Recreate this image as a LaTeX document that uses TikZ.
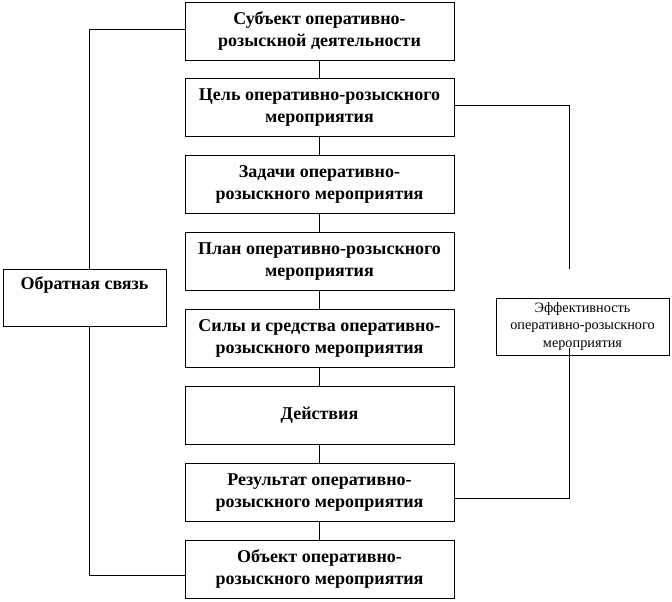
\documentclass[tikz,border=0pt]{standalone}
\usepackage{fontspec}
\setmainfont{Liberation Serif}
\usetikzlibrary{positioning, calc}

\begin{document}
\begin{tikzpicture}[
    x=0.75pt, y=-0.75pt,
    node distance=13.4pt
]

\definecolor{lineclr}{HTML}{000000}

\tikzset{
    stagebox/.style={
        rectangle,
        draw=lineclr,
        line width=0.75pt,
        minimum width=201.75pt,
        minimum height=43.5pt,
        inner sep=2pt,
        font=\fontsize{13.5}{16.5}\selectfont\bfseries,
        align=center
    },
    sidebox/.style={
        rectangle,
        draw=lineclr,
        line width=0.75pt,
        minimum height=42.75pt,
        inner sep=2pt,
        align=center
    },
    link/.style={
        draw=lineclr,
        line width=0.75pt
    }
}

\useasboundingbox (0,0) rectangle (672,601);

% Nodes
\node[stagebox] (subj) at (319.5,31) {Субъект оперативно-\\розыскной деятельности};
\node[stagebox, below=of subj] (goal) {Цель оперативно-розыскного\\мероприятия};
\node[stagebox, below=of goal] (task) {Задачи оперативно-\\розыскного мероприятия};
\node[stagebox, below=of task] (plan) {План оперативно-розыскного\\мероприятия};
\node[stagebox, below=of plan] (force) {Силы и средства оперативно-\\розыскного мероприятия};
\node[stagebox, below=of force] (act) {Действия};
\node[stagebox, below=of act] (res) {Результат оперативно-\\розыскного мероприятия};
\node[stagebox, below=of res] (obj) {Объект оперативно-\\розыскного мероприятия};

\node[sidebox, minimum width=122.25pt, text height=11pt, text depth=23.75pt, inner ysep=4pt,
      font=\fontsize{13.5}{16.5}\selectfont\bfseries] (fb) at (84.5,297.5) {Обратная связь};
\node[sidebox, minimum width=129.75pt, font=\fontsize{10.7}{13.3}\selectfont] (eff) at (582.5,326.5)
    {Эффективность\\оперативно-розыскного\\мероприятия};

\coordinate (effin) at ($(eff.north)+(-13.5,-29)$);
\coordinate (effout) at ($(eff.south)+(-13.5,-8)$);

% Edges of the main chain
\draw[link] (subj) -- (goal);
\draw[link] (goal) -- (task);
\draw[link] (task) -- (plan);
\draw[link] (plan) -- (force);
\draw[link] (force) -- (act);
\draw[link] (act) -- (res);
\draw[link] (res) -- (obj);

% Edges of the feedback loop
\draw[link] ([yshift=1.5pt]subj.west) -| ([xshift=4pt]fb.north);
\draw[link] ([xshift=4pt]fb.south) |- ([yshift=-5pt]obj.west);

% Edges to and from the efficiency box
\draw[link] ([yshift=1.5pt]goal.east) -| (effin);
\draw[link] (effout) |- ([yshift=-5pt]res.east);

\end{tikzpicture}
\end{document}
